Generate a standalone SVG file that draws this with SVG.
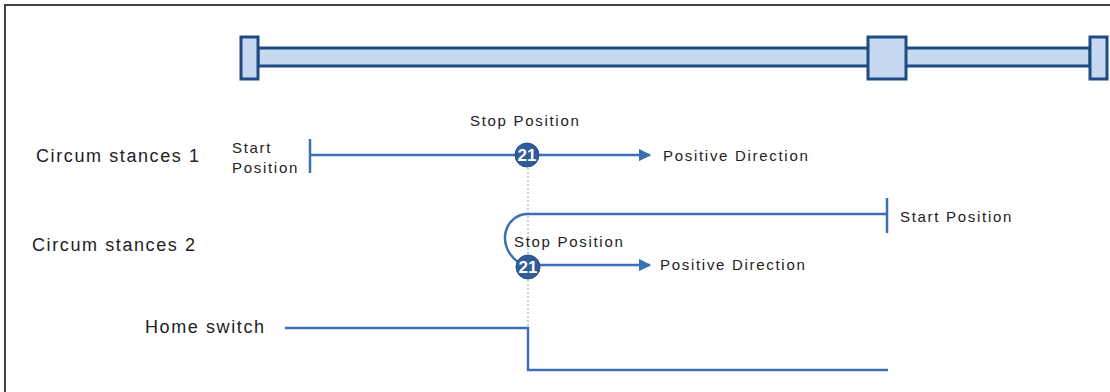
<svg xmlns="http://www.w3.org/2000/svg" width="1110" height="392" viewBox="0 0 1110 392">
<defs>
<style>
.bar{fill:#c6d9f1;stroke:#1f4a82;stroke-width:3}
.ln{fill:none;stroke:#3b70b6;stroke-width:2.5}
.lbl{font-family:"Liberation Sans",Arial,sans-serif;font-size:18px;letter-spacing:1.6px;fill:#222}
.sm{font-family:"Liberation Sans",Arial,sans-serif;font-size:15px;letter-spacing:1.7px;fill:#222}
.num{font-family:"Liberation Sans",Arial,sans-serif;font-size:17px;font-weight:bold;fill:#fff;text-anchor:middle}
.dot{fill:#2e5d9a;stroke:#244f88;stroke-width:1}
</style>
<marker id="ah" viewBox="0 0 10 10" refX="9" refY="5" markerWidth="5" markerHeight="5" orient="auto" markerUnits="strokeWidth">
<path d="M0,0 L10,5 L0,10 z" fill="#3b70b6"/>
</marker>
</defs>
<rect width="1110" height="392" fill="#fff"/>
<path d="M5,392 V5 H1110" fill="none" stroke="#444" stroke-width="2"/>
<g id="rail">
<rect class="bar" x="258" y="48" width="832" height="18"/>
<rect class="bar" x="241" y="37" width="17" height="42"/>
<rect class="bar" x="868" y="37" width="38" height="42"/>
<rect class="bar" x="1090" y="37" width="17" height="42"/>
</g>
<g id="labels">
<text class="lbl" x="36" y="162">Circum stances 1</text>
<text class="lbl" x="32" y="251">Circum stances 2</text>
<text class="lbl" x="145" y="333">Home switch</text>
</g>
<g id="connectors">
<line x1="528" y1="168" x2="528" y2="340" stroke="#7fa4d4" stroke-width="1" stroke-dasharray="2,2"/>
<line class="ln" x1="310" y1="139" x2="310" y2="173"/>
<line class="ln" x1="310" y1="155" x2="516" y2="155"/>
<line class="ln" x1="539" y1="155" x2="650" y2="155" marker-end="url(#ah)"/>
<line class="ln" x1="887" y1="198" x2="887" y2="233"/>
<path class="ln" d="M887,214 H528 C505,214 495,245 518,262"/>
<line class="ln" x1="539" y1="265" x2="650" y2="265" marker-end="url(#ah)"/>
<path class="ln" d="M285,328 H528 V370 H888"/>
</g>
<g id="circ1">
<text class="sm" x="470" y="126">Stop Position</text>
<text class="sm" x="232" y="153">Start</text>
<text class="sm" x="232" y="173">Position</text>
<circle class="dot" cx="527" cy="155" r="12"/>
<text class="num" x="527" y="161">21</text>
<text class="sm" x="663" y="161">Positive Direction</text>
</g>
<g id="circ2">
<text class="sm" x="900" y="222">Start Position</text>
<text class="sm" x="514" y="247">Stop Position</text>
<circle class="dot" cx="528" cy="267" r="12"/>
<text class="num" x="528" y="273">21</text>
<text class="sm" x="660" y="270">Positive Direction</text>
</g>
</svg>
